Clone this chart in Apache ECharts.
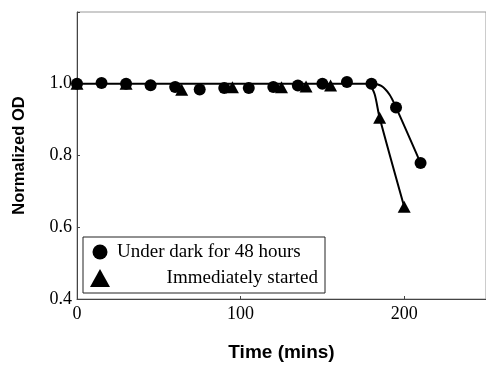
<!DOCTYPE html>
<html>
<head>
<meta charset="utf-8">
<script src="https://cdn.jsdelivr.net/npm/echarts@6/dist/echarts.min.js"></script>
<style>html,body{margin:0;padding:0;background:#fff}#c{width:486px;height:367px}</style>
</head>
<body>
<div id="c"></div>
<script>
// Under dark for 48 hours (circles)
const darkX = [0, 15, 30, 45, 60, 75, 90, 105, 120, 135, 150, 165, 180, 195, 210];
const darkY = [1.0, 1.002, 1.0, 0.996, 0.991, 0.984, 0.988, 0.988, 0.991, 0.995, 1.0, 1.005, 1.0, 0.934, 0.779];
// Immediately started (triangles)
const immX = [0, 30, 64, 95, 125, 140, 155, 185, 200];
const immY = [1.0, 1.0, 0.983, 0.99, 0.99, 0.992, 0.995, 0.905, 0.657];
// fitted curves
const fitDarkX = [0, 180, 186, 191, 195, 210];
const fitDarkY = [1.0, 1.0, 0.994, 0.97, 0.934, 0.779];
const fitImmX = [179, 182, 185, 200];
const fitImmY = [1.0, 0.97, 0.905, 0.657];
const xTicks = [0, 100, 200];
const yTicks = [0.4, 0.6, 0.8, 1.0];
const legendNames = ['Under dark for 48 hours', 'Immediately started'];

const zip = (a, b) => a.map((v, i) => [v, b[i]]);
const chart = echarts.init(document.getElementById('c'));
const serif = '"Liberation Serif", "DejaVu Serif", serif';
const sans = '"Liberation Sans", Arial, sans-serif';
chart.setOption({
  animation: false,
  grid: { left: 77, top: 12, right: -13, bottom: 61, show: true, borderColor: '#999', borderWidth: 1 },
  xAxis: {
    type: 'value', min: 0, max: 250, interval: 100,
    name: 'Time (mins)', nameLocation: 'middle', nameGap: 44,
    nameTextStyle: { fontFamily: sans, fontWeight: 'bold', fontSize: 19, color: '#000' },
    axisLine: { lineStyle: { color: '#444', width: 1 } },
    axisTick: { show: true, inside: true, length: 3, lineStyle: { color: '#444' } },
    splitLine: { show: false },
    axisLabel: { fontFamily: serif, fontSize: 18, color: '#000', margin: 6, showMaxLabel: false,
      formatter: v => xTicks.includes(v) ? String(v) : '' }
  },
  yAxis: {
    type: 'value', min: 0.4, max: 1.2, interval: 0.2,
    name: 'Normalized OD', nameLocation: 'middle', nameGap: 49,
    nameTextStyle: { fontFamily: sans, fontWeight: 'bold', fontSize: 16.5, color: '#000' },
    axisLine: { lineStyle: { color: '#444', width: 1 } },
    axisTick: { show: true, inside: true, length: 3, lineStyle: { color: '#444' } },
    splitLine: { show: false },
    axisLabel: { fontFamily: serif, fontSize: 18, color: '#000', margin: 5,
      formatter: v => { const t = yTicks.find(y => Math.abs(y - v) < 1e-6); return t !== undefined ? t.toFixed(1) : ''; } }
  },
  series: [
    { type: 'line', data: zip(fitDarkX, fitDarkY), smooth: 0.3, symbol: 'none', lineStyle: { color: '#000', width: 2 }, z: 2 },
    { type: 'line', data: zip(fitImmX, fitImmY), smooth: 0.3, symbol: 'none', lineStyle: { color: '#000', width: 2 }, z: 2 },
    { name: legendNames[1], type: 'scatter', data: zip(immX, immY), symbol: 'triangle', symbolSize: [13, 12], itemStyle: { color: '#000', opacity: 1 }, z: 3 },
    { name: legendNames[0], type: 'scatter', data: zip(darkX, darkY), symbol: 'circle', symbolSize: 12, itemStyle: { color: '#000', opacity: 1 }, z: 4 }
  ],
  graphic: [
    { type: 'rect', shape: { x: 83, y: 237, width: 242, height: 56 }, style: { fill: '#fff', stroke: '#222', lineWidth: 1 }, z: 10 },
    { type: 'circle', shape: { cx: 100, cy: 252, r: 7.5 }, style: { fill: '#000' }, z: 11 },
    { type: 'polygon', shape: { points: [[100, 269], [110, 287], [90, 287]] }, style: { fill: '#000' }, z: 11 },
    { type: 'text', x: 117, y: 252, style: { text: legendNames[0], font: '19px ' + serif, fill: '#000', verticalAlign: 'middle', align: 'left' }, z: 11 },
    { type: 'text', x: 318, y: 278, style: { text: legendNames[1], font: '19px ' + serif, fill: '#000', verticalAlign: 'middle', align: 'right' }, z: 11 }
  ]
});
</script>
</body>
</html>
